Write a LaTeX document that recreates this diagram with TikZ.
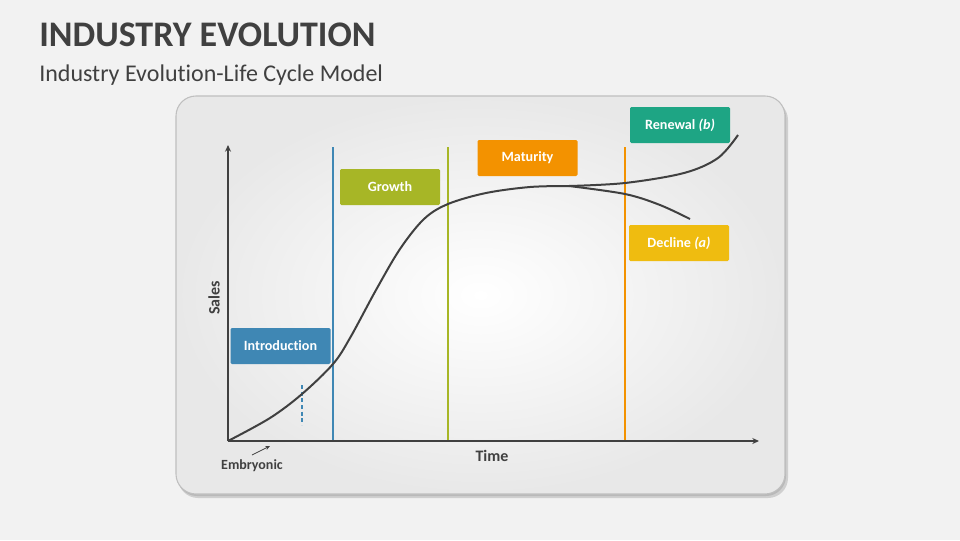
\documentclass[tikz,border=0pt]{standalone}
\usepackage{fontspec}
\setmainfont{Carlito}[Ligatures=NoCommon]
\usetikzlibrary{shadows,arrows.meta}
\definecolor{bg}{HTML}{F2F2F2}
\definecolor{ink}{HTML}{404040}
\definecolor{cIntro}{HTML}{3F87B4}
\definecolor{cGrowth}{HTML}{A7B626}
\definecolor{cMat}{HTML}{F39200}
\definecolor{cRen}{HTML}{1EA584}
\definecolor{cDec}{HTML}{EFBC10}
\tikzset{
  stage/.style={fill=#1, text=white, font=\bfseries\fontsize{10.6}{12}\selectfont,
    minimum width=75pt, minimum height=27pt, inner sep=0pt, rounded corners=1pt},
  phase/.style={line width=1.5pt, draw=#1},
  axis/.style={draw=ink, line width=1.6pt, -{Stealth[length=5pt,width=4.5pt]}},
  curve/.style={draw=ink, line width=1.5pt},
  lbl/.style={text=ink, font=\bfseries\fontsize{#1}{#1}\selectfont, inner sep=0pt}
}
\begin{document}
\begin{tikzpicture}[x=0.75pt,y=-0.75pt]
\useasboundingbox[fill=bg] (0,0) rectangle (960,540);
% title
\node[anchor=base west, inner sep=0pt, text=ink, font=\bfseries\fontsize{27}{27}\selectfont] (title) at (39,46) {INDUSTRY EVOLUTION};
\node[anchor=base west, inner sep=0pt, text=ink, font=\fontsize{18}{18}\selectfont] (sub) at (39,81) {Industry Evolution-Life Cycle Model};
% panel
\fill[black, opacity=0.14, rounded corners=15pt] (178,100) rectangle (788,498);
\fill[black, opacity=0.10, rounded corners=15pt] (177,98) rectangle (786,496);
\shade[inner color=white, outer color=gray!18, rounded corners=15pt] (176,96) rectangle (785,494);
\draw[gray!50, line width=0.8pt, rounded corners=15pt] (176,96) rectangle (785,494);
% phase lines
\coordinate (b1t) at (333,147); \coordinate (b1b) at (333,441);
\coordinate (b2t) at (448,147); \coordinate (b2b) at (448,441);
\coordinate (b3t) at (625,147); \coordinate (b3b) at (625,441);
\draw[phase=cIntro] (b1t) -- (b1b);
\draw[phase=cGrowth] (b2t) -- (b2b);
\draw[phase=cMat] (b3t) -- (b3b);
\coordinate (dt) at (302,385); \coordinate (db) at (302,425);
\draw[cIntro, line width=0.8pt, dash pattern=on 3pt off 2pt] (dt) -- (db);
% axes
\coordinate (O) at (228,441);
\coordinate (Ytop) at (228,145);
\coordinate (Xend) at (759,441);
\draw[axis] (O) -- (Ytop);
\draw[axis] (O) -- (Xend);
% curve
\draw[curve] plot[smooth, tension=0.55] coordinates {(228,441) (270,418) (302,394) (333,364) (350,338) (376,290) (400,249) (424,219) (448,204) (486,193) (530,187) (569,186)};
\draw[curve] plot[smooth, tension=0.55] coordinates {(569,186) (625,183) (684,173) (718,158) (738,135)};
\draw[curve] plot[smooth, tension=0.55] coordinates {(569,186) (625,194) (660,205) (690,219)};
% stage boxes
\node[stage=cIntro] (intro) at (280.5,346) {Introduction};
\node[stage=cGrowth] (growth) at (390,187) {Growth};
\node[stage=cMat] (mat) at (527.5,158) {Maturity};
\node[stage=cRen] (ren) at (680,125) {Renewal \textit{(b)}};
\node[stage=cDec] (dec) at (679,243) {Decline \textit{(a)}};
% labels
\node[lbl=12, rotate=90] (sales) at (214,298) {Sales};
\node[lbl=12] (time) at (492,456) {Time};
\node[lbl=10.5] (emb) at (252,466) {Embryonic};
\coordinate (ea) at (252,455); \coordinate (eb) at (270,446);
\draw[ink, line width=0.6pt, -{Stealth[length=3.5pt,width=3pt]}] (ea) -- (eb);
\end{tikzpicture}
\end{document}
